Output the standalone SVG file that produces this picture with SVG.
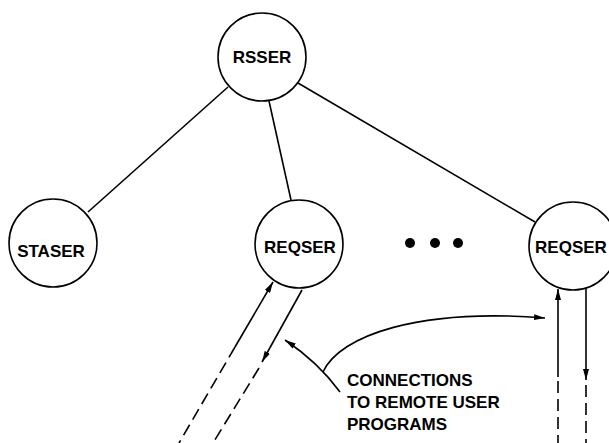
<svg xmlns="http://www.w3.org/2000/svg" width="609" height="443" viewBox="0 0 609 443">
<style>
.node circle{fill:#fff;stroke:#000;stroke-width:1.6}
.lbl{font-family:"Liberation Sans",Arial,sans-serif;font-weight:bold;font-size:17px;fill:#000;text-anchor:middle}
.note{font-family:"Liberation Sans",Arial,sans-serif;font-weight:bold;font-size:17px;fill:#000}
.edge{stroke:#000;stroke-width:1.6;fill:none}
.dash{stroke:#000;stroke-width:1.6;fill:none;stroke-dasharray:12 6}
.dot{fill:#000}
</style>
<defs>
<marker id="ah" viewBox="0 0 11 6" refX="11" refY="3" markerWidth="11" markerHeight="6" markerUnits="userSpaceOnUse" orient="auto">
<path d="M0,0 L11,3 L0,6 z" fill="#000"/>
</marker>
</defs>
<g id="connectors">
<line class="edge" x1="228" y1="87" x2="88" y2="212"/>
<line class="edge" x1="269" y1="101" x2="291" y2="200"/>
<line class="edge" x1="298" y1="83" x2="535" y2="222"/>
<path class="edge" d="M235,347 L273,282" marker-end="url(#ah)"/>
<path class="dash" d="M235,347 L179,443"/>
<path class="edge" d="M302,290 L262,362" marker-end="url(#ah)"/>
<path class="dash" d="M259,368 L213,443"/>
<path class="edge" d="M558,377 L558,289" marker-end="url(#ah)"/>
<path class="dash" d="M558,381 L558,443"/>
<path class="edge" d="M586,289 L586,380" marker-end="url(#ah)"/>
<path class="dash" d="M586,385 L586,443"/>
<path class="edge" d="M340,392 Q318,362 285,340" marker-end="url(#ah)"/>
<path class="edge" d="M323,372 C340,335 420,308 545,318" marker-end="url(#ah)"/>
</g>
<g id="rsser" class="node"><circle cx="262" cy="57" r="44"/><text class="lbl" x="262" y="63">RSSER</text></g>
<g id="staser" class="node"><circle cx="53" cy="243" r="44"/><text class="lbl" x="51" y="257">STASER</text></g>
<g id="reqser1" class="node"><circle cx="299" cy="244" r="44"/><text class="lbl" x="300" y="253">REQSER</text></g>
<g id="reqser2" class="node"><circle cx="573" cy="246" r="44"/><text class="lbl" x="571" y="253">REQSER</text></g>
<g id="ellipsis">
<circle class="dot" cx="410" cy="243" r="5"/>
<circle class="dot" cx="435" cy="243" r="5"/>
<circle class="dot" cx="458" cy="243" r="5"/>
</g>
<g id="note">
<text class="note" x="347" y="386">CONNECTIONS</text>
<text class="note" x="347" y="408">TO REMOTE USER</text>
<text class="note" x="347" y="430">PROGRAMS</text>
</g>
</svg>
